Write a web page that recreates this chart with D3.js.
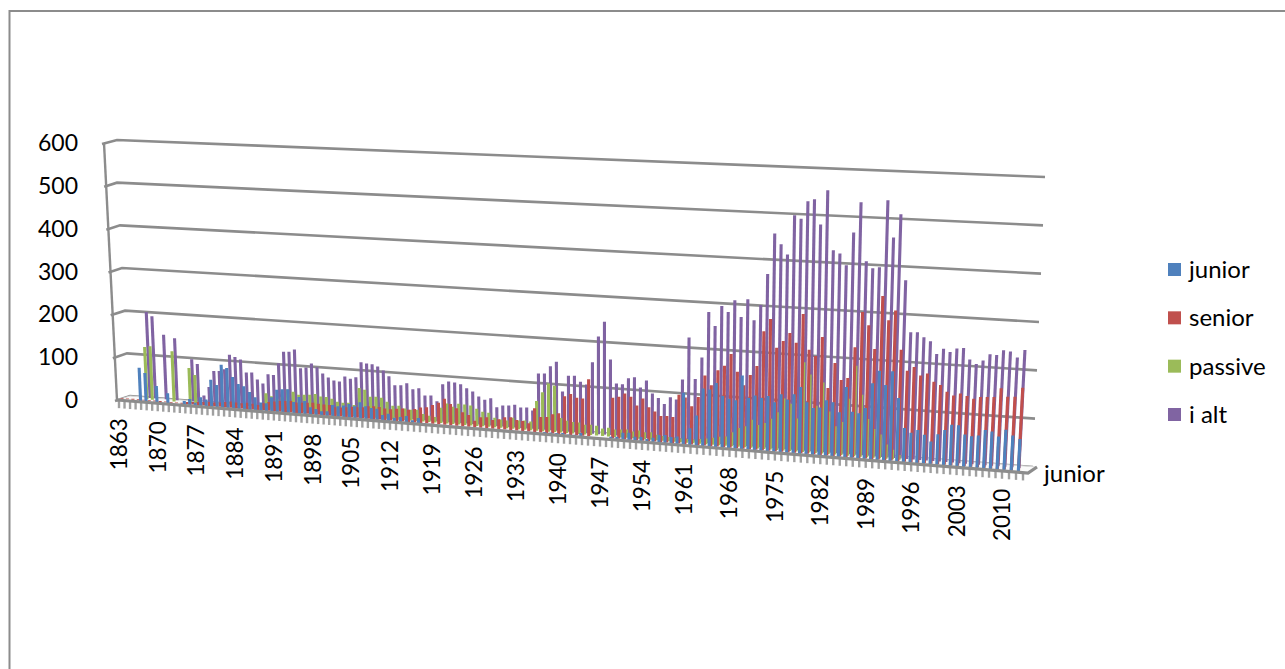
<!DOCTYPE html>
<html>
<head>
<meta charset="utf-8">
<script src="https://cdn.jsdelivr.net/npm/d3@7"></script>
<style>
  html, body { margin: 0; padding: 0; background: #fff; overflow: hidden; }
  text { font-family: Lato, "Open Sans", sans-serif; fill: #000; }
</style>
</head>
<body>
<svg id="chart" width="1285" height="669">
  <defs>
    <filter id="soft" x="-5%" y="-5%" width="110%" height="110%"><feGaussianBlur stdDeviation="0.35"/></filter>
  </defs>
</svg>
<script>
// values, one per year from 1863 to 2012
const junior = [
  0,0,0,0,79,68,0,40,0,25,
  0,0,10,16,8,22,18,64,53,100,
  94,74,59,55,43,32,21,20,35,53,
  55,56,28,40,32,19,16,12,13,28,
  26,29,33,29,39,31,28,27,14,18,
  10,13,16,8,14,3,3,2,2,2,
  0,0,0,0,0,0,0,0,0,0,
  0,0,3,0,0,5,5,5,6,4,
  4,9,0,0,0,0,6,7,17,18,
  10,11,8,11,18,19,16,18,113,38,
  66,125,124,139,112,107,105,159,112,118,
  114,119,107,125,114,127,143,112,101,103,
  119,116,96,150,99,97,109,162,189,160,
  190,135,73,64,71,62,49,65,75,87,
  87,69,66,69,81,79,70,85,74,68
];
const senior = [
  2,2,2,2,2,2,2,2,2,2,
  2,2,5,6,7,8,9,9,10,12,
  14,13,12,14,13,11,16,20,22,24,
  25,26,24,24,25,26,25,24,24,20,
  20,22,24,24,25,28,29,28,26,25,
  27,29,27,30,34,36,42,48,58,47,
  39,31,26,14,23,24,19,22,27,28,
  23,22,18,52,34,35,42,45,83,89,
  82,81,124,0,0,0,88,91,99,93,
  75,91,73,65,56,57,56,105,100,82,
  103,150,130,163,174,200,163,135,158,178,
  253,280,220,235,253,233,295,220,208,249,
  142,196,161,166,232,307,280,231,343,293,
  314,233,190,199,182,187,171,165,152,145,
  150,146,141,146,147,148,167,150,151,171
];
const passive = [
  0,0,0,0,121,124,0,0,0,116,
  0,0,80,65,0,0,0,0,0,0,
  0,0,0,0,0,0,36,30,25,30,
  48,44,38,39,40,43,38,38,35,29,
  28,29,25,64,61,46,47,46,38,30,
  31,26,24,25,17,14,12,34,44,38,
  46,45,44,38,32,31,21,18,17,24,
  19,20,19,65,85,105,101,32,27,25,
  25,21,22,21,16,19,16,17,18,15,
  18,15,16,12,10,9,8,8,8,8,
  10,12,15,18,20,30,40,45,60,50,
  55,65,80,110,100,70,190,165,100,150,
  90,60,70,120,190,130,80,60,50,30,
  20,10,0,0,0,0,0,0,0,0,
  0,0,0,0,0,0,0,0,0,0
];
const iAlt = [
  0,0,0,0,199,190,0,149,0,143,
  0,0,97,87,16,36,74,75,80,114,
  110,105,76,77,62,54,76,75,103,130,
  131,137,95,98,108,100,87,79,73,72,
  84,80,84,119,117,116,112,104,92,73,
  74,79,67,70,55,56,44,83,90,89,
  86,78,72,62,56,60,41,46,47,50,
  45,46,40,122,123,140,151,87,122,123,
  111,106,155,212,245,164,113,112,126,129,
  108,124,97,88,76,92,88,132,223,135,
  182,280,251,295,283,309,274,313,269,302,
  369,456,434,413,497,490,528,533,480,553,
  427,421,397,467,531,408,394,397,538,461,
  510,373,265,266,256,249,223,235,229,237,
  239,216,208,216,230,229,240,238,227,243
];
const firstYear = 1863;
const years = d3.range(firstYear, firstYear + iAlt.length);
const yearLabels = years.filter((y, i) => i % 7 === 0);
const valueTicks = [0, 100, 200, 300, 400, 500, 600];
const seriesNames = ["junior", "senior", "passive", "i alt"];
const seriesColors = ["#4f81bd", "#c0504d", "#9bbb59", "#8064a2"];
const seriesValues = [junior, senior, passive, iAlt];
const depthLabel = "junior";

const svg = d3.select("#chart");
const grey = "#8c8c8c";
const n = years.length;

// fake perspective of the 3D column chart
const frontX = d3.scaleLinear().domain([0, 49, 98, 147, 150]).range([119, 390, 684, 1002, 1023]);
const nearDx = d3.scaleLinear().domain([0, 30, 100, 130, 150]).range([-3, -4.8, -4, -5, -1]);
const farDx = d3.scaleLinear().domain([0, 30, 100, 130, 150]).range([6.7, 3, 1, -1.3, -0.5]);
const pxPerUnit = d3.scaleLinear().domain([0, n]).range([0.43, 0.485]);
const lean = d3.scaleLinear().domain([0, 84, 119, 150]).range([-0.047, 0, 0.018, 0.052]);
const frontY = d3.scaleLinear().domain([117, 1030]).range([400, 473]);
const wallLeftX = d3.scaleLinear().domain([0, 100, 200, 300, 400, 500, 600]).range([130, 127, 125, 122, 120, 117, 117]);
const wallLeftY = d3.scaleLinear().domain([0, 600]).range([396, 140]);
const wallRightX = d3.scaleLinear().domain([0, 600]).range([1033, 1045]);
const wallRightY = d3.scaleLinear().domain([0, 600]).range([467, 177]);
const axisX = d3.scaleLinear().domain([0, 600]).range([117, 104]);
const axisY = d3.scaleLinear().domain([0, 600]).range([400, 143]);
const line = d3.line();

function foot(i, s) {
  const d = s / 3;
  const x = frontX(i + 0.5) + nearDx(i) + (farDx(i) - nearDx(i)) * d;
  const y = frontY(frontX(i)) - 4 * d;
  return [x, y];
}

// outer frame, runs off the right and the bottom
svg.append("path")
  .attr("d", "M9.5,669V11H1285")
  .attr("fill", "none")
  .attr("stroke", grey)
  .attr("stroke-width", 2);

const marks = svg.append("g").attr("filter", "url(#soft)");

// gridlines on the back wall and the stubs on the side wall
const grid = marks.append("g");
valueTicks.forEach((v) => {
  grid.append("path")
    .attr("d", line([[axisX(v) - 2, axisY(v) + 1], [wallLeftX(v), wallLeftY(v)], [wallRightX(v), wallRightY(v)]]))
    .attr("fill", "none")
    .attr("stroke", grey)
    .attr("stroke-width", 2.6);
});
grid.append("path")
  .attr("d", line([[axisX(600), axisY(600)], [axisX(0), axisY(0)]]))
  .attr("stroke", grey)
  .attr("stroke-width", 2.4);

// floor
marks.append("path")
  .attr("d", line([[117, 400], [130, 396], [1037, 467], [1028, 473]]) + "Z")
  .attr("fill", "#fafafa")
  .attr("stroke", "#d8d8d8");

// year ticks under the front edge
marks.append("g").selectAll("line")
  .data(d3.range(n + 1))
  .join("line")
  .attr("x1", (i) => frontX(i))
  .attr("x2", (i) => frontX(i))
  .attr("y1", (i) => frontY(frontX(i)))
  .attr("y2", (i) => frontY(frontX(i)) + 8)
  .attr("stroke", "#a0a0a0")
  .attr("stroke-width", 2.4);

// columns, back series first
const barWidth = 3.1;
d3.range(3, -1, -1).forEach((s) => {
  const g = marks.append("g").attr("fill", seriesColors[s]);
  seriesValues[s].forEach((v, i) => {
    if (!v) return;
    const [x, y] = foot(i, s);
    const h = v * pxPerUnit(i);
    const top = x + lean(i) * h;
    g.append("path")
      .attr("d", line([[x - barWidth / 2, y], [top - barWidth / 2, y - h], [top + barWidth / 2, y - h], [x + barWidth / 2, y]]) + "Z");
  });
});

// front edge of the floor
marks.append("path")
  .attr("d", line([[117, 400], [1028, 473], [1037, 467]]))
  .attr("fill", "none")
  .attr("stroke", grey)
  .attr("stroke-width", 3.2);

// value labels
svg.append("g").selectAll("text")
  .data(valueTicks)
  .join("text")
  .attr("x", 78)
  .attr("y", (v) => axisY(v) + 8)
  .attr("text-anchor", "end")
  .attr("font-size", 23)
  .text((v) => v);

// year labels
svg.append("g").selectAll("text")
  .data(yearLabels)
  .join("text")
  .attr("transform", (y) => {
    const x = frontX(y - firstYear);
    return `translate(${x + 8},${frontY(x) + 18}) rotate(-90)`;
  })
  .attr("text-anchor", "end")
  .attr("font-size", 22.5)
  .text((y) => y);

svg.append("text")
  .attr("x", 1044)
  .attr("y", 482)
  .attr("font-size", 24)
  .text(depthLabel);

// legend
const legendY = d3.scalePoint().domain(seriesNames).range([270, 415]);
const legend = svg.append("g").selectAll("g")
  .data(seriesNames)
  .join("g")
  .attr("transform", (d) => `translate(1168,${legendY(d)})`);
legend.append("rect")
  .attr("y", -7)
  .attr("width", 13)
  .attr("height", 13)
  .attr("fill", (d, i) => seriesColors[i]);
legend.append("text")
  .attr("x", 21)
  .attr("y", 8)
  .attr("font-size", 24)
  .text((d) => d);
</script>
</body>
</html>
